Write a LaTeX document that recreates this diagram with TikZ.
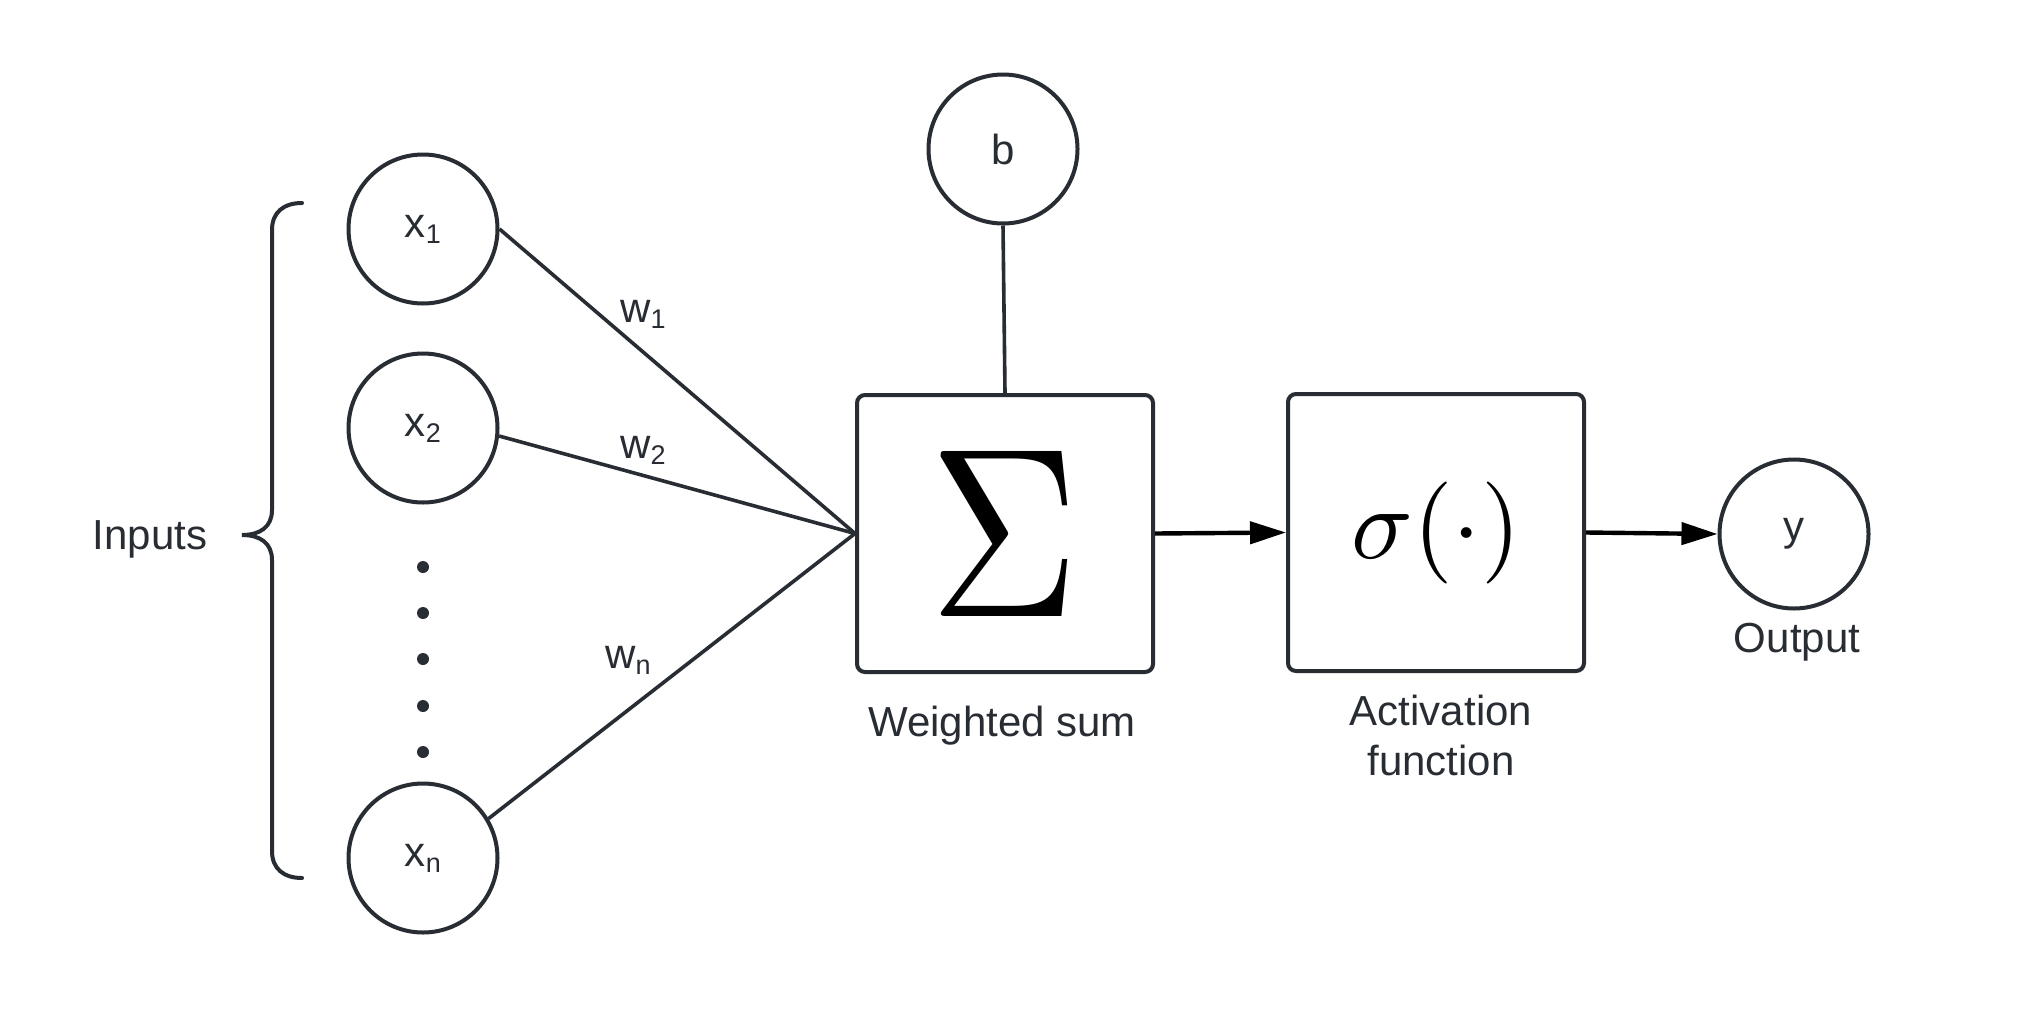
\documentclass[tikz,border=0pt]{standalone}
\usepackage{fontspec}
\setmainfont{Liberation Sans}
\usepackage{graphicx}
\usetikzlibrary{arrows.meta}
\definecolor{dk}{RGB}{40,44,51}
\newcommand\lowsub[1]{\raisebox{-6pt}{\fontsize{27}{27}\selectfont #1}}
\begin{document}
\begin{tikzpicture}[x=1pt,y=-1pt,
  every node/.style={text=dk, font=\fontsize{42}{50}\selectfont},
  neuron/.style={circle, draw=dk, line width=4pt, minimum size=149pt, inner sep=0pt},
  opbox/.style={rectangle, draw=dk, line width=4pt, rounded corners=8pt, minimum width=296pt, minimum height=277pt, inner sep=0pt},
  conn/.style={draw=dk, line width=3.6pt},
  flow/.style={draw=black, line width=4.4pt, -{Triangle[length=36pt,width=22pt]}},
  lbl/.style={anchor=base}]
\fill[white] (0,0) rectangle (2018,1009);
% input neurons
\node[neuron] (x1) at (423,229) {x\lowsub{1}};
\node[neuron] (x2) at (423,428) {x\lowsub{2}};
\node[neuron] (xn) at (423,858) {x\lowsub{n}};
\foreach \yy in {567,613,659,706,752} \fill[dk] (423,\yy) circle (6pt);
% bias, boxes, output
\node[neuron] (b) at (1003,149) {b};
\node[opbox, text=black] (sig) at (1005,533.5) {\resizebox{150pt}{165pt}{\fontsize{10}{12}\selectfont$\Sigma$}};
\node[opbox, text=black] (act) at (1436,532.5) {\scalebox{10.2}{\fontsize{10}{12}\selectfont$\sigma(\cdot)$}};
\node[neuron] (yout) at (1794,534) {y};
% connectors
\draw[conn] (x1.east) -- (sig.west);
\draw[conn] (x2.-6) -- (sig.west);
\draw[conn] (xn.31) -- (sig.west);
\draw[conn] (b.south) -- (sig.north);
\draw[flow] (sig.east) -- (act.west);
\draw[flow] (act.east) -- (yout.west);
% labels
\node[lbl] (w1) at (643,322) {w\lowsub{1}};
\node[lbl] (w2) at (643,458) {w\lowsub{2}};
\node[lbl] (wn) at (628,668) {w\lowsub{n}};
\node[lbl] (inputs) at (150,549) {Inputs};
\node[lbl] (wsum) at (1002,736) {Weighted sum};
\node[lbl] (actlbl) at (1441,725) {\setlength{\tabcolsep}{0pt}\begin{tabular}[t]{c}Activation\\function\end{tabular}};
\node[lbl] (outlbl) at (1797,652) {Output};
% brace
\draw[conn, line width=4pt, line cap=round] (302,203) .. controls (284,203) and (272,212) .. (272,230) -- (272,510) .. controls (272,527) and (260,535) .. (242,535) .. controls (260,535) and (272,543) .. (272,560) -- (272,851) .. controls (272,869) and (284,878) .. (302,878);
\end{tikzpicture}
\end{document}
